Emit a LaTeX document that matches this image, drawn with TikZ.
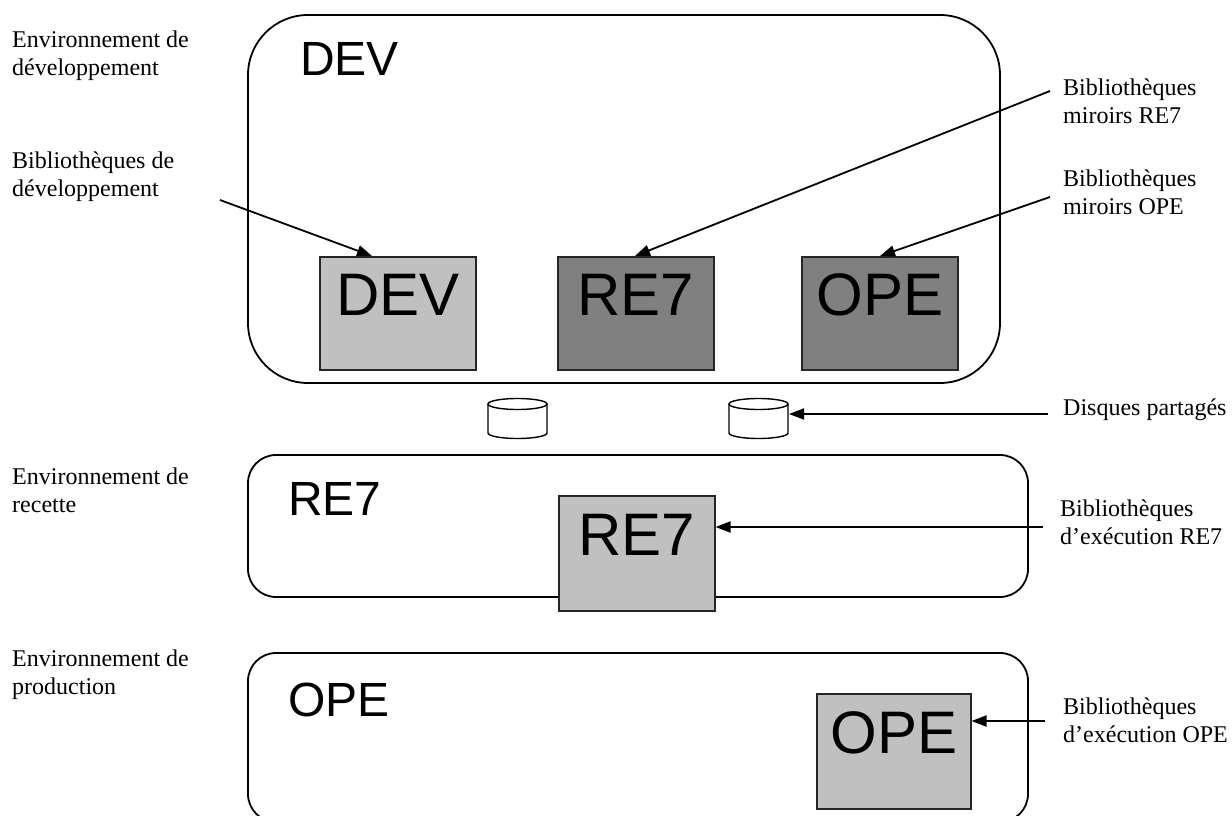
\documentclass[tikz,border=0pt]{standalone}
\usepackage{fontspec}
\setmainfont{Liberation Serif}
\setsansfont{Liberation Sans}
\usetikzlibrary{arrows.meta}
\begin{document}
\begin{tikzpicture}[x=1pt,y=-1pt,
  envbox/.style={draw=black, line width=1.8pt},
  libbox/.style={draw=black!85, line width=1.5pt, inner sep=0pt, anchor=north west,
    minimum width=156pt, minimum height=113pt, font=\sffamily\fontsize{60}{60}\selectfont,
    text height=43pt, text depth=38pt},
  light/.style={fill={rgb,255:red,192;green,192;blue,192}},
  dark/.style={fill={rgb,255:red,128;green,128;blue,128}},
  envlabel/.style={anchor=base west, inner sep=0pt, font=\sffamily\fontsize{48}{48}\selectfont},
  note/.style={anchor=north west, inner sep=0pt, align=left, font=\fontsize{24}{27.6}\selectfont},
  arr/.style={line width=1.8pt, -{Triangle[length=15pt,width=11pt]}},
  cyl/.style={draw=black, line width=1.4pt, fill=white}
]
\clip (0,0) rectangle (1232,816);
\fill[white] (0,0) rectangle (1232,816);

% environments
\draw[envbox, rounded corners=60pt] (248,15) rectangle (1000,383);
\draw[envbox, rounded corners=28pt] (248,455) rectangle (1028,597);
\draw[envbox, rounded corners=28pt] (248,653) rectangle (1028,822);

\node[envlabel] (tdev) at (300,75) {DEV};
\node[envlabel] (tre7) at (288,515) {RE7};
\node[envlabel] (tope) at (288,716) {OPE};

% library boxes
\node[libbox, light] (ldev) at (319,256) {DEV};
\node[libbox, dark]  (lre7) at (557,256) {RE7};
\node[libbox, dark]  (lope) at (801,256) {OPE};
\node[libbox, light, minimum height=115pt] (xre7) at (558,495) {RE7};
\node[libbox, light, minimum width=154pt, minimum height=115pt] (xope) at (816,693) {OPE};

% shared disks
\draw[cyl] (488,404) -- (488,433) arc[start angle=180, end angle=0, x radius=29.5, y radius=5.5] -- (547,404);
\draw[cyl] (517.5,404) ellipse[x radius=29.5, y radius=5.5];
\draw[cyl] (729,404) -- (729,433) arc[start angle=180, end angle=0, x radius=29.5, y radius=5.5] -- (788,404);
\draw[cyl] (758.5,404) ellipse[x radius=29.5, y radius=5.5];
\coordinate (disk2) at (789,414);

% annotations
\node[note] (n1) at (12,31) {Environnement de\\développement};
\node[note] (n2) at (12,152) {Bibliothèques de\\développement};
\node[note] (n3) at (12,468) {Environnement de\\recette};
\node[note] (n4) at (12,650) {Environnement de\\production};
\node[note] (n5) at (1063,79) {Bibliothèques\\miroirs RE7};
\node[note] (n6) at (1063,170) {Bibliothèques\\miroirs OPE};
\node[note] (n7) at (1063,399) {Disques partagés};
\node[note] (n8) at (1060,500) {Bibliothèques\\d’exécution RE7};
\node[note] (n9) at (1063,698) {Bibliothèques\\d’exécution OPE};

% arrow tails
\coordinate (s1) at (220,200);
\coordinate (s2) at (1050,91);
\coordinate (s3) at (1050,197);
\coordinate (s4) at (1048,414);
\coordinate (s5) at (1043,527);
\coordinate (s6) at (1045,721);

\draw[arr] (s1) -- ([xshift=53pt]ldev.north west);
\draw[arr] (s2) -- ([xshift=78pt]lre7.north west);
\draw[arr] (s3) -- ([xshift=79pt]lope.north west);
\draw[arr] (s4) -- (disk2);
\draw[arr] (s5) -- (s5 -| xre7.east);
\draw[arr] (s6) -- (s6 -| xope.east);
\end{tikzpicture}
\end{document}
